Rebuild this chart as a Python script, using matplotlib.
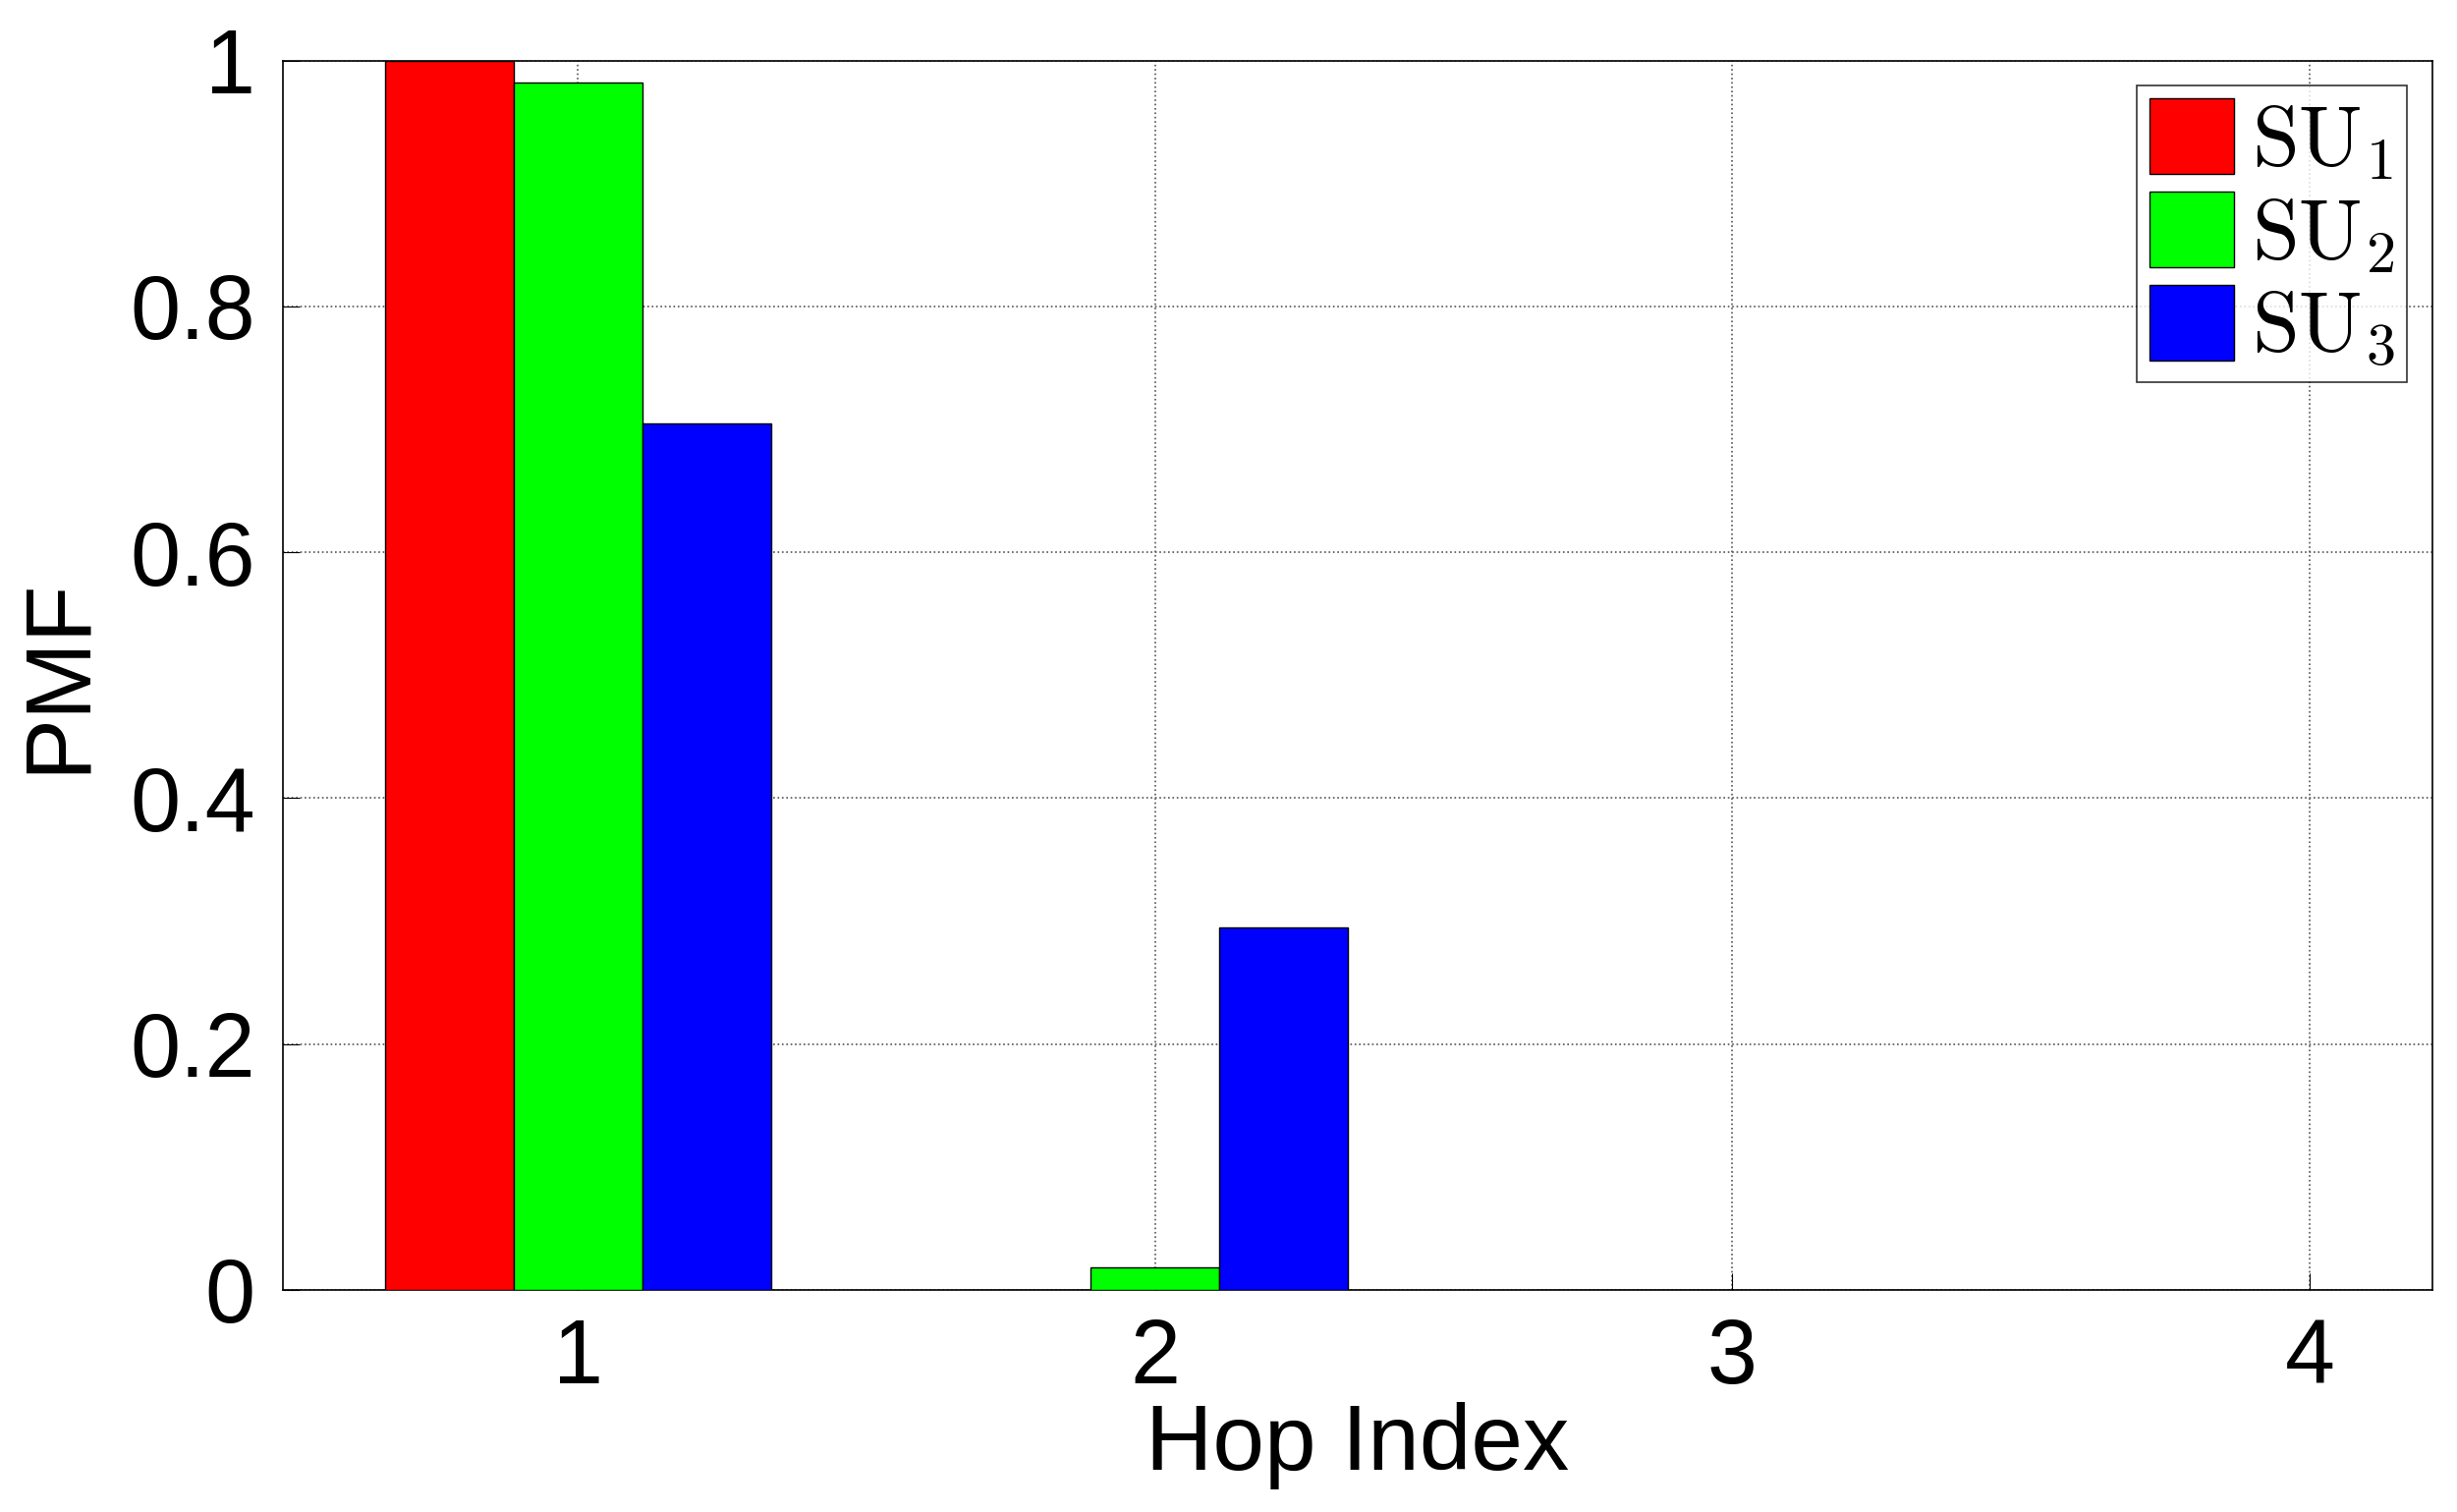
import matplotlib.pyplot as plt
import numpy as np

plt.rcParams['font.family'] = ['Liberation Sans', 'DejaVu Sans']
plt.rcParams['mathtext.fontset'] = 'cm'

hops = [1, 2, 3, 4]
su1 = [1.0, 0.0, 0.0, 0.0]
su2 = [0.982, 0.018, 0.0, 0.0]
su3 = [0.705, 0.295, 0.0, 0.0]
labels = [r'$\mathrm{SU}_1$', r'$\mathrm{SU}_2$', r'$\mathrm{SU}_3$']
colors = ['#ff0000', '#00ff00', '#0000ff']

fig = plt.figure(figsize=(25.01, 15.39), dpi=100)
ax = fig.add_axes([0.115, 0.147, 0.875, 0.813])

x = np.array(hops)
w = 0.223
for i, (vals, lab, c) in enumerate(zip([su1, su2, su3], labels, colors)):
    ax.bar(x + (i - 1) * w, vals, width=w, color=c, edgecolor='black',
           linewidth=1, label=lab, zorder=3)

ax.set_xlim(0.488, 4.213)
ax.set_ylim(0, 1)
ax.set_xticks(hops)
ax.set_yticks([0, 0.2, 0.4, 0.6, 0.8, 1])
ax.set_yticklabels(['0', '0.2', '0.4', '0.6', '0.8', '1'])
ax.grid(True, linestyle=':', color='#555555', linewidth=1.2, zorder=0)
ax.tick_params(direction='in', labelsize=66, length=12, pad=20)
for s in ax.spines.values():
    s.set_linewidth(1.2)
ax.set_xlabel('Hop Index', fontsize=68, labelpad=0)
ax.set_ylabel('PMF', fontsize=68, labelpad=20)

leg = ax.legend(loc='upper right', fontsize=62, frameon=True, fancybox=False,
                edgecolor='black', handlelength=1.0, handleheight=1.0,
                handletextpad=0.2, borderpad=0.15, labelspacing=0.1,
                borderaxespad=0.3)
leg.get_frame().set_linewidth(1.2)

fig.savefig('out.png', dpi=100)
